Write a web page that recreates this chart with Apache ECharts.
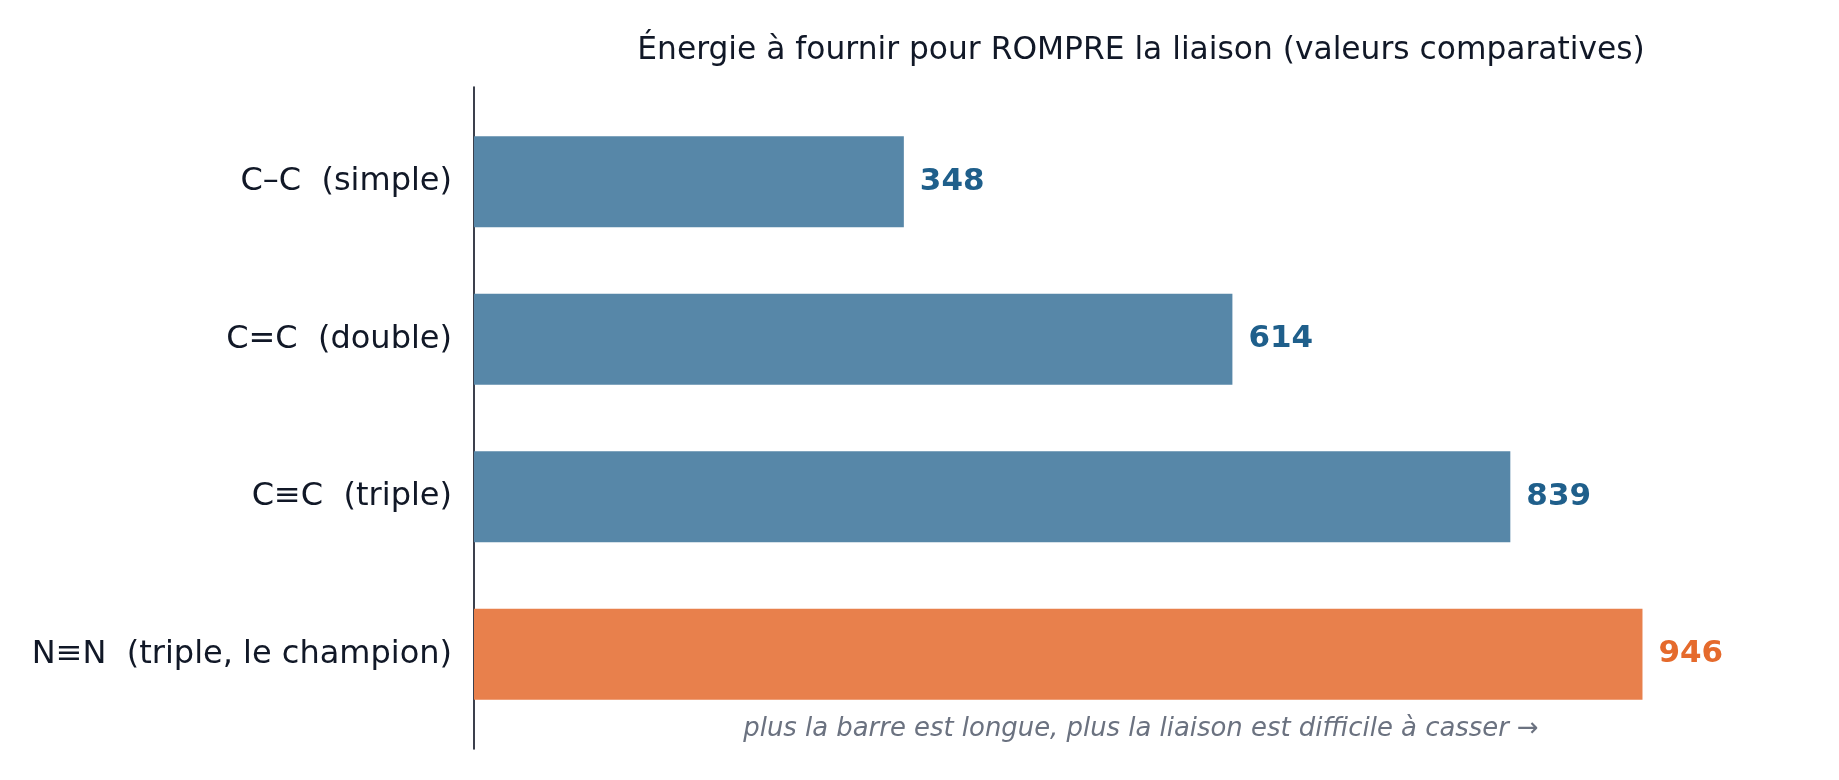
<!DOCTYPE html>
<html>
<head>
<meta charset="utf-8">
<script src="https://cdn.jsdelivr.net/npm/echarts@6/dist/echarts.min.js"></script>
<style>
  html, body { margin: 0; padding: 0; background: #ffffff; }
  #chart { width: 1839px; height: 780px; }
</style>
</head>
<body>
<div id="chart"></div>
<script>
// ---- data ----
const categories = ['C–C  (simple)', 'C=C  (double)', 'C≡C  (triple)', 'N≡N  (triple, le champion)'];
const energies = [348, 614, 839, 946];
const highlight = [false, false, false, true];
const titleText = 'Énergie à fournir pour ROMPRE la liaison (valeurs comparatives)';
const noteText = 'plus la barre est longue, plus la liaison est difficile à casser →';

// ---- styles ----
const FONT = 'DejaVu Sans, Verdana, sans-serif';
const INK = '#111827';
const BAR_BLUE = '#5787a8', LABEL_BLUE = '#1f5f8b';
const BAR_ORANGE = '#e8804c', LABEL_ORANGE = '#e56a2c';

const chart = echarts.init(document.getElementById('chart'), null, { renderer: 'canvas' });

const option = {
  backgroundColor: '#ffffff',
  animation: false,
  title: [
    {
      text: titleText,
      left: 1141, top: 35, textAlign: 'center', padding: 0,
      textStyle: { fontFamily: FONT, fontSize: 31.3, fontWeight: 'normal', color: INK }
    },
    {
      text: noteText,
      left: 1141, top: 716, textAlign: 'center', padding: 0,
      textStyle: { fontFamily: FONT, fontSize: 25.9, fontWeight: 'normal', fontStyle: 'italic', color: '#6b7280' }
    }
  ],
  grid: [
    { left: 474, right: 31, top: 87, bottom: 31, containLabel: false },
    { left: 474, right: 31, top: 103, bottom: 47, containLabel: false }
  ],
  xAxis: [
    { gridIndex: 0, type: 'value', min: 0, max: 1080, show: false },
    { gridIndex: 1, type: 'value', min: 0, max: 1080, show: false }
  ],
  yAxis: [
    {
      gridIndex: 0, type: 'value', min: 0, max: 1, inverse: true,
      axisLine: { show: true, onZero: false, lineStyle: { color: '#0b1020', width: 1.6 } },
      axisTick: { show: false }, axisLabel: { show: false }, splitLine: { show: false }
    },
    {
      gridIndex: 1, type: 'category', data: categories, inverse: true,
      axisLine: { show: false }, axisTick: { show: false }, splitLine: { show: false },
      axisLabel: { margin: 22, fontFamily: FONT, fontSize: 32, color: INK }
    }
  ],
  series: [
    {
      type: 'bar',
      xAxisIndex: 1, yAxisIndex: 1,
      barWidth: 91,
      data: energies.map((v, i) => ({
        value: v,
        itemStyle: { color: highlight[i] ? BAR_ORANGE : BAR_BLUE },
        label: { color: highlight[i] ? LABEL_ORANGE : LABEL_BLUE }
      })),
      label: {
        show: true, position: 'right', distance: 16,
        fontFamily: FONT, fontSize: 31, fontWeight: 'bold'
      }
    }
  ]
};
chart.setOption(option);
</script>
</body>
</html>
